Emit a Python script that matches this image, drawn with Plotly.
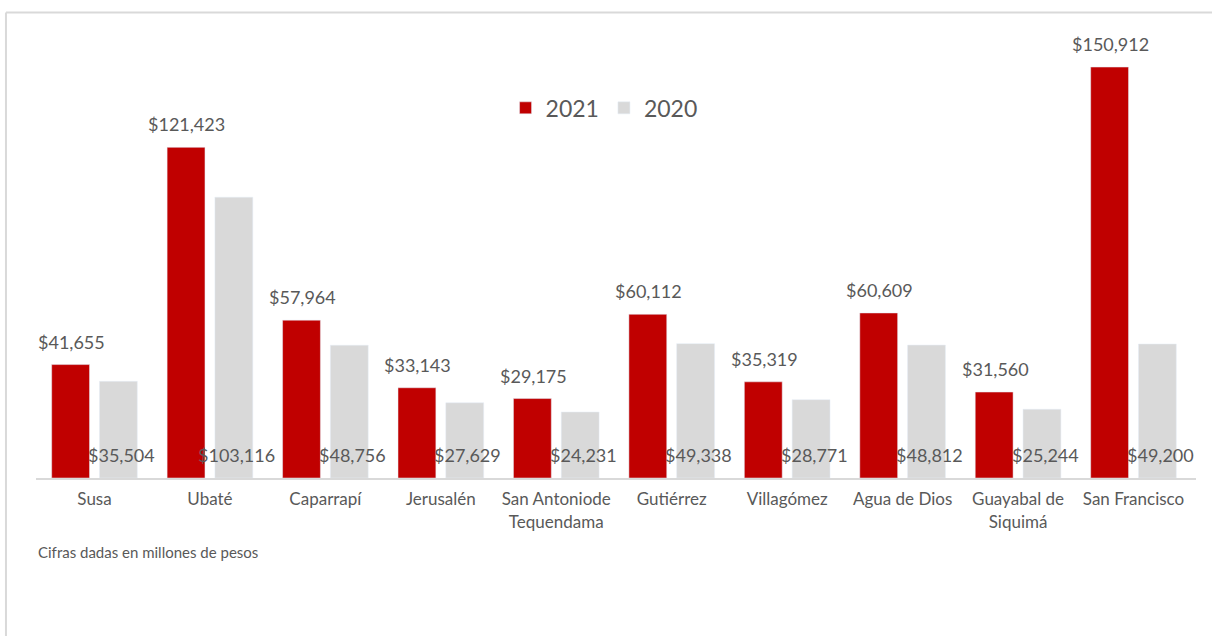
import plotly.graph_objects as go

municipios = ['Susa', 'Ubaté', 'Caparrapí', 'Jerusalén', 'San Antoniode<br>Tequendama',
              'Gutiérrez', 'Villagómez', 'Agua de Dios', 'Guayabal de<br>Siquimá', 'San Francisco']
valores_2021 = [41655, 121423, 57964, 33143, 29175, 60112, 35319, 60609, 31560, 150912]
valores_2020 = [35504, 103116, 48756, 27629, 24231, 49338, 28771, 48812, 25244, 49200]

FONT = 'Century Gothic, Lato, sans-serif'
GRIS_TEXTO = '#595959'


def etiqueta(v):
    return f'${v:,}'


fig = go.Figure()
fig.add_trace(go.Bar(name='2021', x=municipios, y=valores_2021,
                     marker=dict(color='#C00000'), hoverinfo='skip'))
fig.add_trace(go.Bar(name='2020', x=municipios, y=valores_2020,
                     marker=dict(color='#D9D9D9'), hoverinfo='skip'))

# etiquetas: 2021 sobre la barra, 2020 en la base
for m, v21, v20 in zip(municipios, valores_2021, valores_2020):
    fig.add_annotation(x=m, y=v21, text=etiqueta(v21), showarrow=False,
                       xshift=-23, yshift=10, yanchor='bottom',
                       font=dict(size=18, color=GRIS_TEXTO, family=FONT))
    fig.add_annotation(x=m, y=0, text=etiqueta(v20), showarrow=False,
                       xshift=27, yshift=23, yanchor='middle',
                       font=dict(size=18, color=GRIS_TEXTO, family=FONT))

# marco exterior del grafico
borde = dict(type='line', xref='paper', yref='paper', line=dict(color='#D9D9D9', width=2))
fig.add_shape(**borde, x0=-0.0259, x1=1.03, y0=1.0628, y1=1.0628)
fig.add_shape(**borde, x0=-0.0259, x1=-0.0259, y0=1.0628, y1=-0.45)

fig.add_annotation(text='Cifras dadas en millones de pesos', xref='paper', yref='paper',
                   x=0, y=(478 - 552) / 438, xanchor='left', yanchor='middle', showarrow=False,
                   font=dict(size=15, color=GRIS_TEXTO, family=FONT))

fig.update_layout(
    width=1212, height=636,
    margin=dict(l=36, r=16, t=40, b=158, autoexpand=False),
    paper_bgcolor='white', plot_bgcolor='white',
    barmode='group', bargap=0.172, bargroupgap=0.208,
    font=dict(family=FONT, color=GRIS_TEXTO),
    showlegend=True,
    legend=dict(orientation='h', x=0.4897, xanchor='center', y=0.845, yanchor='middle',
                font=dict(size=23, color=GRIS_TEXTO, family=FONT), itemwidth=30),
    xaxis=dict(showline=True, linecolor='#D9D9D9', linewidth=2, ticks='',
               ticklabelstandoff=5, automargin=False,
               tickfont=dict(size=17, color=GRIS_TEXTO, family=FONT)),
    yaxis=dict(range=[0, 160850], visible=False, showgrid=False, zeroline=False,
               automargin=False),
)

fig.write_html('out.html', config={'displayModeBar': False},
               post_script="document.body.style.margin='0';document.body.style.overflow='hidden';")
